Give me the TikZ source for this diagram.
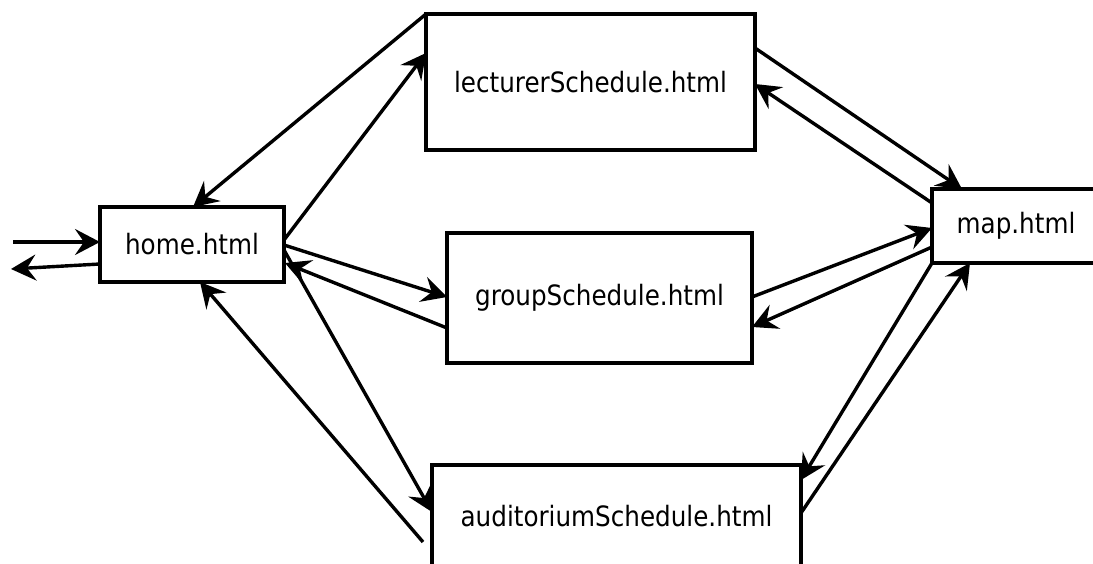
\documentclass[tikz,border=0pt]{standalone}
\usepackage{fontspec}
\usetikzlibrary{arrows.meta,calc}
\newfontfamily\lab[FakeStretch=0.88]{DejaVu Sans}
\begin{document}
\begin{tikzpicture}[x=1pt,y=-1pt,
  page/.style={draw=black,line width=3.2pt,outer sep=0pt,inner sep=0pt,
    font=\lab\fontsize{28}{32}\selectfont,text=black},
  arr/.style={line width=3.4pt,-{Stealth[length=25pt,width=26pt,inset=9pt]}}]
\useasboundingbox (0,0) rectangle (1093,564);
\fill[white] (0,0) rectangle (1093,564);
\clip (0,0) rectangle (1093,564);
\node[page,minimum width=184pt,minimum height=75pt] (home) at (192,244.5) {home.html};
\node[page,minimum width=329pt,minimum height=136pt] (lec) at (590.5,82) {lecturerSchedule.html};
\node[page,minimum width=305pt,minimum height=130pt] (grp) at (599.5,298) {groupSchedule.html};
\node[page,minimum width=168pt,minimum height=74pt] (map) at (1016,226) {map.html};
\node[page,minimum width=369pt,minimum height=103pt] (aud) at (616.5,516.5) {auditoriumSchedule.html};
\coordinate (inL) at (13,242);
\coordinate (outL) at (11,269);
% external
\draw[arr] (inL) -- ($(home.north west)+(0,35)$);
\draw[arr] ($(home.north west)+(0,57)$) -- (outL);
% home <-> lecturer
\draw[arr] (lec.north west) -- ($(home.north west)+(93,0)$);
\draw[arr] ($(home.north east)+(0,33)$) -- ($(lec.north west)+(0,39)$);
% home <-> group
\draw[arr] ($(home.north east)+(0,38)$) -- ($(grp.north west)+(0,64)$);
\draw[arr] ($(grp.north west)+(0,95)$) -- ($(home.north east)+(1,56)$);
% home <-> auditorium
\draw[arr] ($(home.north east)+(0,43)$) -- ($(aud.north west)+(0,47)$);
\draw[arr] ($(aud.north west)+(-9,77)$) -- ($(home.south west)+(100,0)$);
% lecturer <-> map
\draw[arr] ($(lec.north east)+(0,34)$) -- ($(map.north west)+(30,0)$);
\draw[arr] ($(map.north west)+(0,14)$) -- ($(lec.north east)+(0,70)$);
% group <-> map
\draw[arr] ($(grp.north east)+(0,64)$) -- ($(map.north west)+(0,39)$);
\draw[arr] ($(map.north west)+(0,58)$) -- ($(grp.north east)+(0,94)$);
% auditorium <-> map
\draw[arr] (map.south west) -- ($(aud.north east)+(0,15)$);
\draw[arr] ($(aud.north east)+(0,48)$) -- ($(map.south west)+(38,0)$);
\end{tikzpicture}
\end{document}
